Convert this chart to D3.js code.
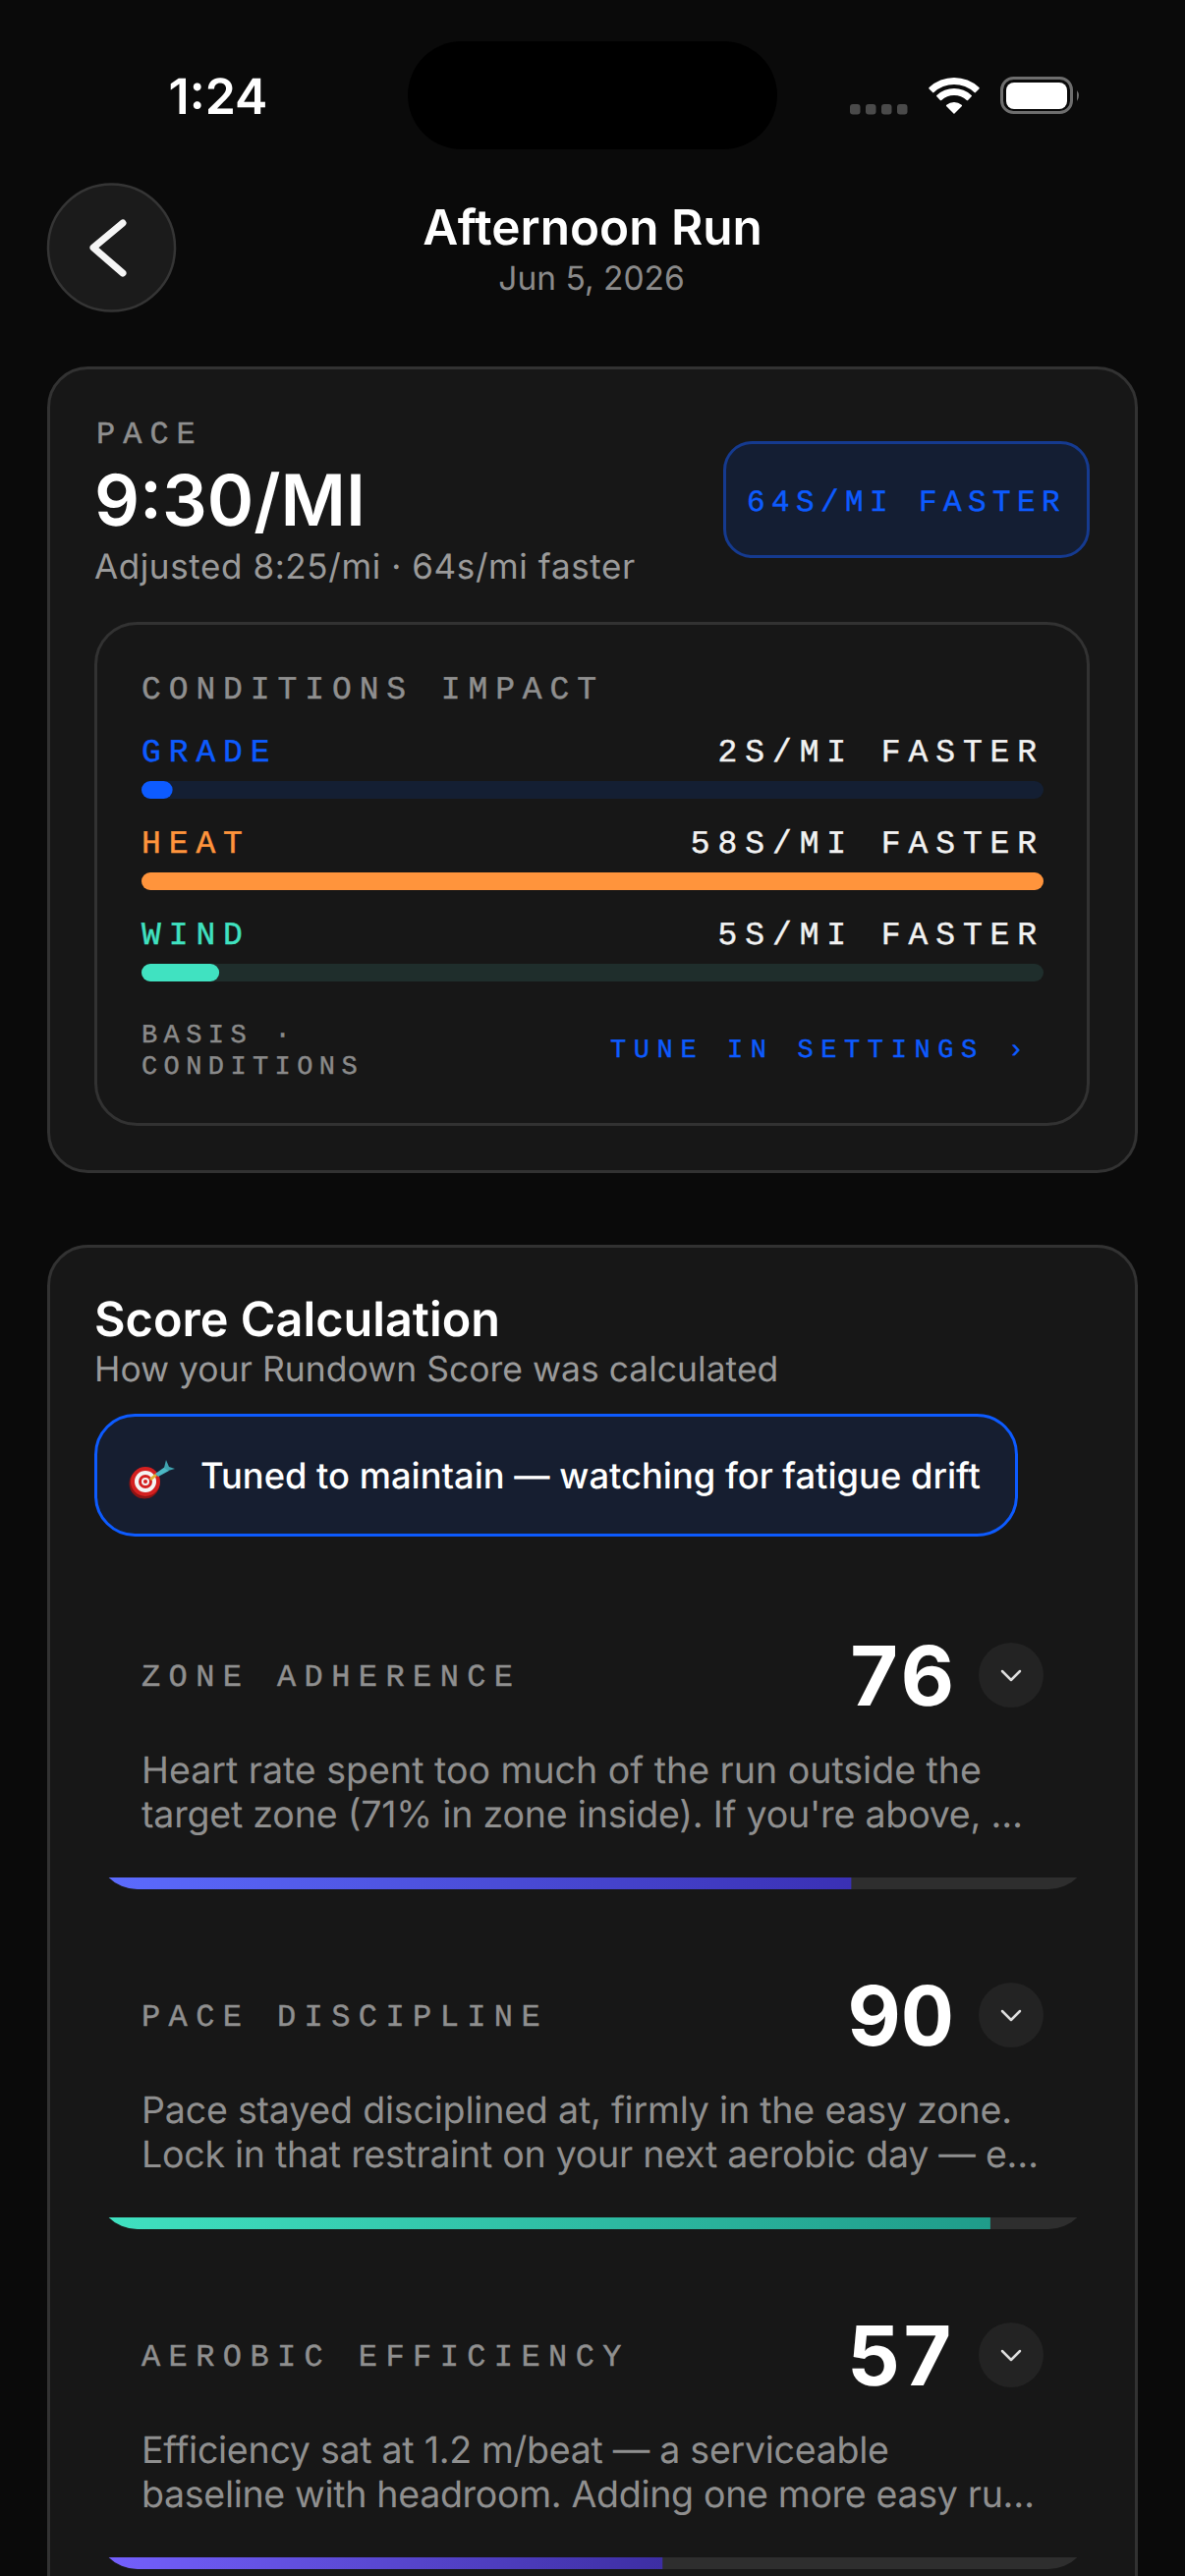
<!DOCTYPE html>
<html>
<head>
<meta charset="utf-8">
<script src="https://cdn.jsdelivr.net/npm/d3@7"></script>
<style>
  html, body { margin: 0; padding: 0; background: #0a0a0a; }
  svg { display: block; }
  text { text-rendering: geometricPrecision; }
  .sans { font-family: Inter, "Noto Sans", sans-serif; }
  .mono { font-family: "Liberation Mono", monospace; stroke-width: 0.45px; }
  .score { font-variant-numeric: tabular-nums; }
</style>
</head>
<body>
<div id="chart"></div>
<script>
// Values
const conditionNames = ['GRADE', 'HEAT', 'WIND'];
const conditionSeconds = [2, 58, 5];
const conditionLabels = ['2S/MI FASTER', '58S/MI FASTER', '5S/MI FASTER'];
const conditionColors = ['#0d5bff', '#ff943c', '#40e2c1'];
const conditionTracks = ['#141f33', '#3a2a1c', '#1f2e2c'];

const metricNames = ['ZONE ADHERENCE', 'PACE DISCIPLINE', 'AEROBIC EFFICIENCY'];
const metricScores = [76, 90, 57];
const metricText = [
  ['Heart rate spent too much of the run outside the', "target zone (71% in zone inside). If you're above, \u2026"],
  ['Pace stayed disciplined at, firmly in the easy zone.', 'Lock in that restraint on your next aerobic day \u2014 e\u2026'],
  ['Efficiency sat at 1.2 m/beat \u2014 a serviceable', 'baseline with headroom. Adding one more easy ru\u2026']
];
const metricGradients = [['#5c6cff', '#3a30b4'], ['#40e2c1', '#1f9c8a'], ['#7561ff', '#3d2ea3']];

const width = 1206;
const height = 2622;

// Measured line widths, the description font is not quite the installed Inter
const descWidths = [[855, 897], [886, 913], [761, 909]];

const svg = d3.select('#chart').append('svg')
    .attr('width', width)
    .attr('height', height);

const defs = svg.append('defs');

svg.append('rect').attr('width', width).attr('height', height).attr('fill', '#0a0a0a');

function label(x, y, str, size, fill, opts) {
    opts = opts || {};
    return svg.append('text')
        .attr('class', opts.mono ? 'mono' : 'sans')
        .attr('x', x)
        .attr('y', y)
        .attr('font-size', size)
        .attr('font-weight', opts.weight || 400)
        .attr('fill', fill)
        .attr('stroke', opts.mono ? fill : 'none')
        .attr('text-anchor', opts.anchor || 'start')
        .attr('letter-spacing', opts.spacing || 0)
        .text(str);
}

function box(x, y, w, h, r, fill, stroke, sw) {
    return svg.append('rect')
        .attr('x', x + sw / 2).attr('y', y + sw / 2)
        .attr('width', w - sw).attr('height', h - sw)
        .attr('rx', r)
        .attr('fill', fill)
        .attr('stroke', stroke)
        .attr('stroke-width', sw);
}

function chevron(points, color, sw) {
    svg.append('path')
        .attr('d', d3.line()(points))
        .attr('fill', 'none')
        .attr('stroke', color)
        .attr('stroke-width', sw)
        .attr('stroke-linecap', 'round')
        .attr('stroke-linejoin', 'round');
}

// Status bar
svg.append('rect').attr('x', 415).attr('y', 42).attr('width', 376).attr('height', 110).attr('rx', 55).attr('fill', '#000');
label(222, 116, '1:24', 50, '#fff', { anchor: 'middle', weight: 600 });

svg.selectAll('.signal').data(d3.range(4)).join('rect')
    .attr('class', 'signal')
    .attr('x', d => 865 + d * 16)
    .attr('y', 106)
    .attr('width', 10.5)
    .attr('height', 10.5)
    .attr('rx', 3)
    .attr('fill', '#4a4a4a');

const wifi = svg.append('g').attr('transform', 'translate(971,116)');
const wifiBands = [[30, 37], [19, 26], [0, 12]];
wifi.selectAll('path').data(wifiBands).join('path')
    .attr('fill', '#fff')
    .attr('d', d => d3.arc().innerRadius(d[0]).outerRadius(d[1]).startAngle(-Math.PI / 4).endAngle(Math.PI / 4).cornerRadius(1)());

box(1018, 78, 74, 38, 12, 'none', '#6e6e6e', 3);
svg.append('rect').attr('x', 1024).attr('y', 84).attr('width', 62).attr('height', 27).attr('rx', 8).attr('fill', '#fff');
svg.append('path').attr('d', 'M1096,92 Q1100,97 1096,103 Z').attr('fill', '#6e6e6e');

// Header
svg.append('circle').attr('cx', 113.5).attr('cy', 252).attr('r', 64.5).attr('fill', '#1b1b1b').attr('stroke', '#353535').attr('stroke-width', 2.5);
chevron([[125, 227], [95, 252], [125, 278]], '#f5f5f5', 7);
label(603, 249, 'Afternoon Run', 49.5, '#fff', { anchor: 'middle', weight: 600 });
label(602, 295, 'Jun 5, 2026', 33.5, '#8a8a8a', { anchor: 'middle' });

// Pace card
box(48, 373, 1110, 821, 40, '#171717', '#323232', 3);
label(98, 451, 'PACE', 32, '#8f8f8f', { mono: true, spacing: 8 });
label(96, 535, '9:30/MI', 72, '#fff', { weight: 600 });
label(96, 589, 'Adjusted 8:25/mi \u00b7 64s/mi faster', 35, '#9a9a9a', { spacing: 0.6 });

box(736, 449, 373, 119, 28, '#141e33', '#153a8f', 3);
label(760, 520, '64S/MI FASTER', 31, '#0d5bff', { mono: true, spacing: 6.4 });

// Conditions block
box(96, 633, 1013, 513, 42, '#171717', '#323232', 3);
label(144, 711, 'CONDITIONS IMPACT', 33, '#8f8f8f', { mono: true, spacing: 7.9 });

const condWidth = d3.scaleLinear().domain([0, d3.max(conditionSeconds)]).range([0, 918]);
const condRow = d3.scalePoint().domain(conditionNames).range([0, 186]);

conditionNames.forEach((name, i) => {
    const top = condRow(name);
    label(144, 775 + top, name, 33, conditionColors[i], { mono: true, spacing: 7.9 });
    label(1063, 775 + top, conditionLabels[i], 33, '#f2f2f2', { mono: true, spacing: 7.9, anchor: 'end' });
    svg.append('rect').attr('x', 144).attr('y', 795 + top).attr('width', 918).attr('height', 18).attr('rx', 9).attr('fill', conditionTracks[i]);
    svg.append('rect').attr('x', 144).attr('y', 795 + top).attr('width', condWidth(conditionSeconds[i])).attr('height', 18).attr('rx', 9).attr('fill', conditionColors[i]);
});

label(144, 1061, 'BASIS \u00b7', 27, '#8a8a8a', { mono: true, spacing: 6.4 });
label(144, 1093, 'CONDITIONS', 27, '#8a8a8a', { mono: true, spacing: 6.4 });
label(621, 1076, 'TUNE IN SETTINGS \u203a', 27, '#0d5bff', { mono: true, spacing: 7.6 });

// Score card runs off the bottom of the screen
box(48, 1267, 1110, 1500, 40, '#171717', '#323232', 3);
label(96, 1360, 'Score Calculation', 48.6, '#fff', { weight: 600 });
label(96, 1406, 'How your Rundown Score was calculated', 35.5, '#9a9a9a');

box(96, 1439, 940, 125, 40, '#161e30', '#0d5bff', 3);
label(204, 1515, 'Tuned to maintain \u2014 watching for fatigue drift', 36.3, '#fff', { weight: 500 });

// Target emoji: no colour emoji font on the render box, so it is drawn
const target = svg.append('g').attr('transform', 'translate(148,1508)');
target.append('circle').attr('cx', -1).attr('cy', 2).attr('r', 15.5).attr('fill', '#8e1414');
target.append('circle').attr('r', 15).attr('fill', '#d42020');
target.append('circle').attr('r', 11).attr('fill', '#f4f4f4');
target.append('circle').attr('r', 7).attr('fill', '#d42020');
target.append('circle').attr('r', 4).attr('fill', '#f4f4f4');
target.append('circle').attr('r', 2).attr('fill', '#d42020');
target.append('path').attr('d', 'M4,-3 L10,-8 L12,-6 L6,-1 Z').attr('fill', '#e0b030');
target.append('path').attr('d', 'M10,-8 L20,-15 L24,-11 L13,-5 Z').attr('fill', '#4bb8c4');
target.append('path').attr('d', 'M19,-14 L21,-22 L24,-15 L30,-13 L23,-11 Z').attr('fill', '#3fa3b0');

// Score rows
const scoreX = d3.scaleLinear().domain([0, 100]).range([98, 1109]);
const rowStep = 346;

metricNames.forEach((name, i) => {
    const dy = i * rowStep;
    label(144, 1716 + dy, name, 32, '#8f8f8f', { mono: true, spacing: 8.4 });
    label(971, 1736 + dy, metricScores[i], 84, '#fff', { weight: 700, anchor: 'end' }).classed('score', true);

    svg.append('circle').attr('cx', 1029).attr('cy', 1705 + dy).attr('r', 33).attr('fill', '#232323');
    chevron([[1020, 1701 + dy], [1029, 1710 + dy], [1038, 1701 + dy]], '#dcdcdc', 2.5);

    metricText[i].forEach((line, j) => {
        label(144, 1815 + dy + j * 45, line, 37.6, '#8f8f8f')
            .attr('textLength', descWidths[i][j])
            .attr('lengthAdjust', 'spacing');
    });

    const grad = defs.append('linearGradient').attr('id', 'metric-' + i);
    grad.append('stop').attr('offset', '0%').attr('stop-color', metricGradients[i][0]);
    grad.append('stop').attr('offset', '100%').attr('stop-color', metricGradients[i][1]);

    defs.append('clipPath').attr('id', 'row-' + i).append('rect')
        .attr('x', scoreX(0)).attr('y', 1923 + dy - 100)
        .attr('width', scoreX(100) - scoreX(0)).attr('height', 100)
        .attr('rx', 42);

    const bar = svg.append('g').attr('clip-path', 'url(#row-' + i + ')');
    bar.append('rect').attr('x', scoreX(0)).attr('y', 1911 + dy).attr('width', scoreX(100) - scoreX(0)).attr('height', 12).attr('fill', '#2e2e2e');
    bar.append('rect').attr('x', scoreX(0)).attr('y', 1911 + dy).attr('width', scoreX(metricScores[i]) - scoreX(0)).attr('height', 12).attr('fill', 'url(#metric-' + i + ')');
});
</script>
</body>
</html>
